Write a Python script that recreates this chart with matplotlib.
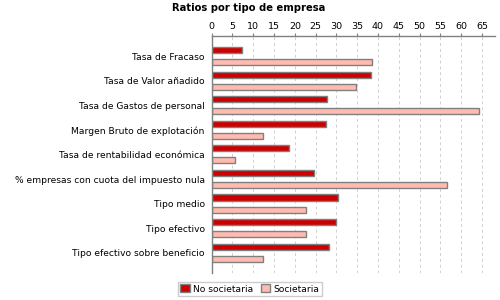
import numpy as np
import matplotlib
matplotlib.use("Agg")
from matplotlib import pyplot
from matplotlib.patches import Patch

# data
categories = [
    "Tasa de Fracaso",
    "Tasa de Valor añadido",
    "Tasa de Gastos de personal",
    "Margen Bruto de explotación",
    "Tasa de rentabilidad económica",
    "% empresas con cuota del impuesto nula",
    "Tipo medio",
    "Tipo efectivo",
    "Tipo efectivo sobre beneficio",
]
no_societaria = [7.4, 38.3, 27.8, 27.4, 18.7, 24.7, 30.5, 29.8, 28.3]
societaria = [38.5, 34.8, 64.2, 12.3, 5.5, 56.5, 22.6, 22.6, 12.4]
series_names = ["No societaria", "Societaria"]
x_ticks = list(range(0, 70, 5))

red = "#cc0000"
pink = "#ffbbb0"
edge = "#808080"

fig = pyplot.figure(figsize=(5, 3), dpi=100)
ax = fig.add_axes([0.4234, 0.09, 0.567, 0.791])

y = np.arange(len(categories))
h = 0.245
ax.barh(y - 0.255, no_societaria, height=h, color=red, edgecolor=edge, linewidth=1)
ax.barh(y + 0.235, societaria, height=h, color=pink, edgecolor=edge, linewidth=1)

ax.set_xlim(0, 68.2)
ax.set_ylim(8.82, -0.845)
ax.set_xticks(x_ticks)
ax.set_yticks(y)
ax.set_yticklabels(categories)

ax.xaxis.tick_top()
ax.tick_params(axis="x", length=2, color=edge, labelsize=6.8, pad=1.5)
ax.tick_params(axis="y", length=0, labelsize=6.6, pad=5)

ax.grid(axis="x", color="#d0d0d0", linestyle=(0, (3, 3)), linewidth=0.7)
ax.set_axisbelow(True)

for side in ["right", "bottom"]:
    ax.spines[side].set_visible(False)
for side in ["left", "top"]:
    ax.spines[side].set_color(edge)
    ax.spines[side].set_linewidth(1)

fig.text(0.498, 0.99, "Ratios por tipo de empresa", ha="center", va="top",
         fontsize=7.2, fontweight="bold")

handles = [Patch(facecolor=red, edgecolor=edge), Patch(facecolor=pink, edgecolor=edge)]
fig.legend(handles, series_names, loc="center", bbox_to_anchor=(0.5, 0.037),
           ncol=2, fontsize=6.6, frameon=True, fancybox=False, edgecolor="#c0c0c0",
           handlelength=1.0, handleheight=1.0, handletextpad=0.4, columnspacing=0.8,
           borderpad=0.3)

fig.savefig("out.png", dpi=100)
